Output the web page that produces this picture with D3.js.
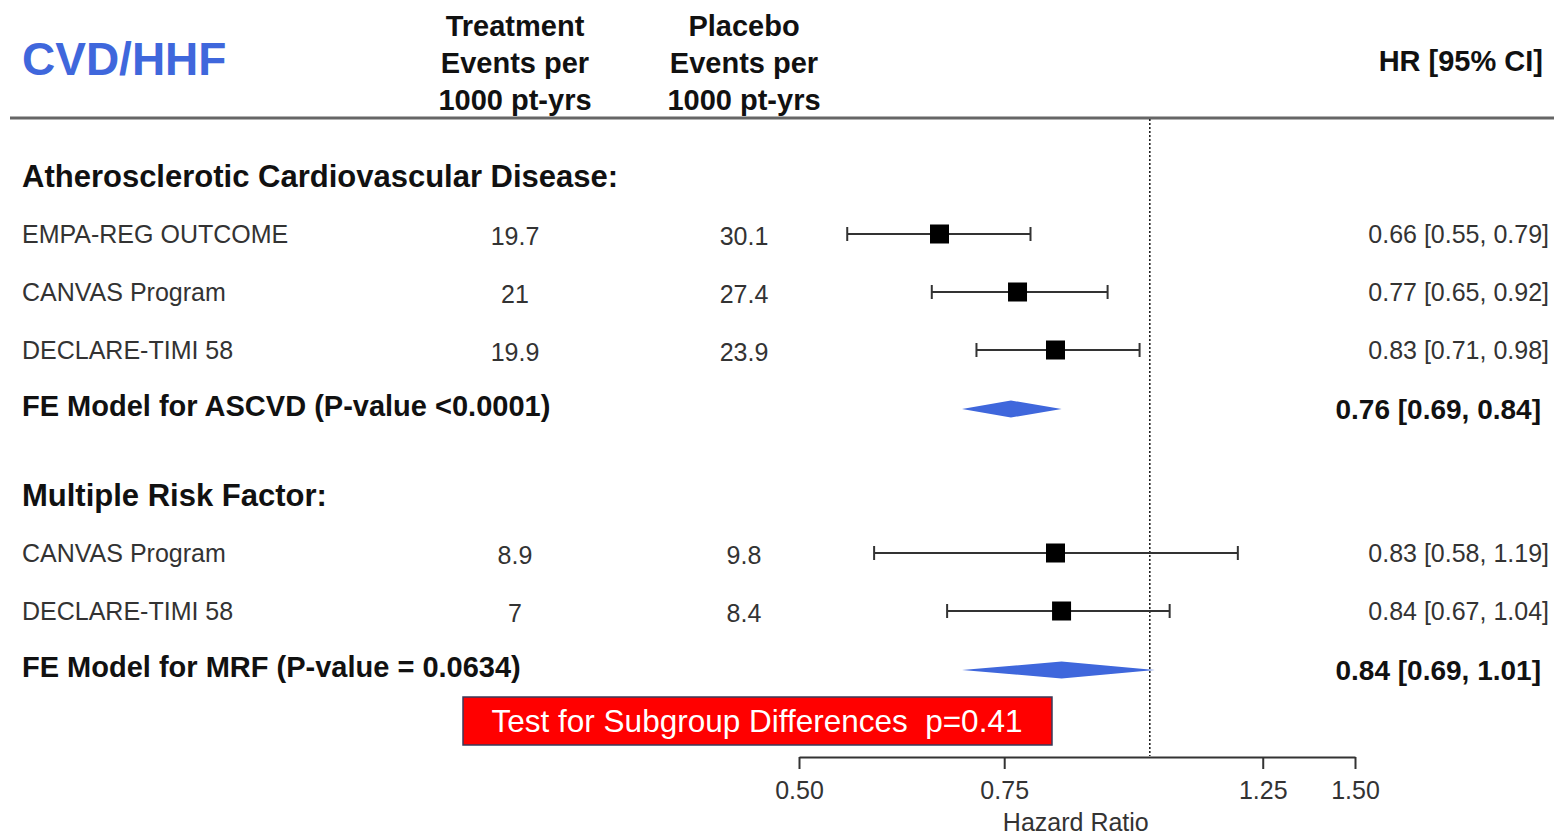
<!DOCTYPE html>
<html>
<head>
<meta charset="utf-8">
<script src="https://cdn.jsdelivr.net/npm/d3@7/dist/d3.min.js"></script>
<style>
  html, body { margin: 0; padding: 0; background: #fff; }
  svg { display: block; }
  text { font-family: Arial, "Liberation Sans", Helvetica, sans-serif; }
</style>
</head>
<body>
<svg id="chart" width="1554" height="835"></svg>
<script>
// ---------- data ----------
const title = "CVD/HHF";
const colHeaders = [
  ["Treatment", "Events per", "1000 pt-yrs"],
  ["Placebo", "Events per", "1000 pt-yrs"]
];
const hrHeader = "HR [95% CI]";

const sections = [
  { label: "Atherosclerotic Cardiovascular Disease:", row: 0 },
  { label: "Multiple Risk Factor:", row: 5.5 }
];

const studyNames   = ["EMPA-REG OUTCOME", "CANVAS Program", "DECLARE-TIMI 58", "CANVAS Program", "DECLARE-TIMI 58"];
const studyRows    = [1, 2, 3, 6.5, 7.5];
const treatEvents  = ["19.7", "21", "19.9", "8.9", "7"];
const placeboEvents= ["30.1", "27.4", "23.9", "9.8", "8.4"];
const studyHR      = [0.66, 0.77, 0.83, 0.83, 0.84];
const studyLo      = [0.55, 0.65, 0.71, 0.58, 0.67];
const studyHi      = [0.79, 0.92, 0.98, 1.19, 1.04];

const poolNames = ["FE Model for ASCVD (P-value <0.0001)", "FE Model for MRF (P-value = 0.0634)"];
const poolRows  = [4, 8.5];
const poolHR    = [0.76, 0.84];
const poolLo    = [0.69, 0.69];
const poolHi    = [0.84, 1.01];

const axisTicks = [0.50, 0.75, 1.25, 1.50];
const axisTitle = "Hazard Ratio";
const subgroupNote = "Test for Subgroup Differences  p=0.41";

// ---------- layout ----------
const svg = d3.select("#chart");
const x = d3.scaleLog().domain([0.5, 1.5]).range([799, 1355]);
const y = d3.scaleLinear().domain([0, 8.5]).range([176, 669]);
const fmt = d3.format(".2f");
const blue = "#3f67dc";
const lineCol = "#333";

// header
svg.append("text").attr("x", 22).attr("y", 75)
  .attr("font-size", 46).attr("font-weight", "bold").attr("fill", blue).text(title);

const colX = [515, 744];
colHeaders.forEach((lines, i) => {
  lines.forEach((t, j) => {
    svg.append("text").attr("x", colX[i]).attr("y", 36 + j * 37)
      .attr("text-anchor", "middle").attr("font-size", 29).attr("font-weight", "bold")
      .attr("fill", "#111").text(t);
  });
});
svg.append("text").attr("x", 1543).attr("y", 71).attr("text-anchor", "end")
  .attr("font-size", 29).attr("font-weight", "bold").attr("fill", "#111").text(hrHeader);

svg.append("line").attr("x1", 10).attr("x2", 1554).attr("y1", 118).attr("y2", 118)
  .attr("stroke", "#666").attr("stroke-width", 3);

// reference line at HR = 1
svg.append("line").attr("x1", x(1)).attr("x2", x(1)).attr("y1", 119).attr("y2", 756)
  .attr("stroke", "#222").attr("stroke-width", 1.6).attr("stroke-dasharray", "2,2");

// section headers
svg.selectAll(".sec").data(sections).join("text")
  .attr("x", 22).attr("y", d => y(d.row) + 11)
  .attr("font-size", 31).attr("font-weight", "bold").attr("fill", "#111")
  .text(d => d.label);

// study rows
const studies = studyNames.map((n, i) => ({
  name: n, row: studyRows[i], t: treatEvents[i], p: placeboEvents[i],
  hr: studyHR[i], lo: studyLo[i], hi: studyHi[i]
}));

const g = svg.append("g");
g.selectAll(".name").data(studies).join("text")
  .attr("x", 22).attr("y", d => y(d.row) + 9)
  .attr("font-size", 25).attr("fill", "#333").text(d => d.name);
g.selectAll(".tr").data(studies).join("text")
  .attr("x", colX[0]).attr("y", d => y(d.row) + 11).attr("text-anchor", "middle")
  .attr("font-size", 25).attr("fill", "#333").text(d => d.t);
g.selectAll(".pl").data(studies).join("text")
  .attr("x", colX[1]).attr("y", d => y(d.row) + 11).attr("text-anchor", "middle")
  .attr("font-size", 25).attr("fill", "#333").text(d => d.p);
g.selectAll(".hrv").data(studies).join("text")
  .attr("x", 1549).attr("y", d => y(d.row) + 9).attr("text-anchor", "end")
  .attr("font-size", 25).attr("fill", "#333")
  .text(d => `${fmt(d.hr)} [${fmt(d.lo)}, ${fmt(d.hi)}]`);

// CI lines
g.selectAll(".ci").data(studies).join("line")
  .attr("x1", d => x(d.lo)).attr("x2", d => x(d.hi))
  .attr("y1", d => y(d.row)).attr("y2", d => y(d.row))
  .attr("stroke", lineCol).attr("stroke-width", 2);
g.selectAll(".capL").data(studies).join("line")
  .attr("x1", d => x(d.lo)).attr("x2", d => x(d.lo))
  .attr("y1", d => y(d.row) - 7).attr("y2", d => y(d.row) + 7)
  .attr("stroke", lineCol).attr("stroke-width", 2);
g.selectAll(".capR").data(studies).join("line")
  .attr("x1", d => x(d.hi)).attr("x2", d => x(d.hi))
  .attr("y1", d => y(d.row) - 7).attr("y2", d => y(d.row) + 7)
  .attr("stroke", lineCol).attr("stroke-width", 2);
const sq = 19;
g.selectAll(".sq").data(studies).join("rect")
  .attr("x", d => x(d.hr) - sq / 2).attr("y", d => y(d.row) - sq / 2)
  .attr("width", sq).attr("height", sq).attr("fill", "#000");

// pooled rows
const pools = poolNames.map((n, i) => ({ name: n, row: poolRows[i], hr: poolHR[i], lo: poolLo[i], hi: poolHi[i] }));
g.selectAll(".pname").data(pools).join("text")
  .attr("x", 22).attr("y", d => y(d.row) + 8)
  .attr("font-size", 29).attr("font-weight", "bold").attr("fill", "#111").text(d => d.name);
g.selectAll(".pval").data(pools).join("text")
  .attr("x", 1541).attr("y", d => y(d.row) + 11).attr("text-anchor", "end")
  .attr("font-size", 28).attr("font-weight", "bold").attr("fill", "#111")
  .text(d => `${fmt(d.hr)} [${fmt(d.lo)}, ${fmt(d.hi)}]`);
g.selectAll(".dia").data(pools).join("polygon")
  .attr("points", d => {
    const cy = y(d.row) + 1;
    return [[x(d.lo), cy], [x(d.hr), cy - 8.5], [x(d.hi), cy], [x(d.hr), cy + 8.5]].join(" ");
  })
  .attr("fill", blue);

// axis
const axisY = 757;
const axis = d3.axisBottom(x).tickValues(axisTicks).tickFormat(fmt).tickSizeOuter(0).tickSizeInner(12);
const ag = svg.append("g").attr("transform", `translate(0,${axisY})`).call(axis);
ag.select(".domain").attr("stroke", lineCol).attr("stroke-width", 2);
ag.selectAll(".tick line").attr("stroke", lineCol).attr("stroke-width", 2);
ag.selectAll(".tick text").attr("font-size", 25).attr("fill", "#333")
  .attr("font-family", "Arial, 'Liberation Sans', sans-serif").attr("dy", null).attr("y", 42);
svg.append("text").attr("x", x(1) - 74).attr("y", 831).attr("text-anchor", "middle")
  .attr("font-size", 25).attr("fill", "#333").text(axisTitle);

// subgroup box
const box = svg.append("g");
box.append("rect").attr("x", 463).attr("y", 697).attr("width", 589).attr("height", 48)
  .attr("fill", "#ff0000").attr("stroke", "#3a3a5a").attr("stroke-width", 1.5);
box.append("text").attr("x", 757).attr("y", 732).attr("text-anchor", "middle")
  .attr("font-family", "Lato, 'Open Sans', sans-serif").attr("font-size", 31.5)
  .attr("fill", "#fff").attr("xml:space", "preserve").style("white-space", "pre").text(subgroupNote);
</script>
</body>
</html>
